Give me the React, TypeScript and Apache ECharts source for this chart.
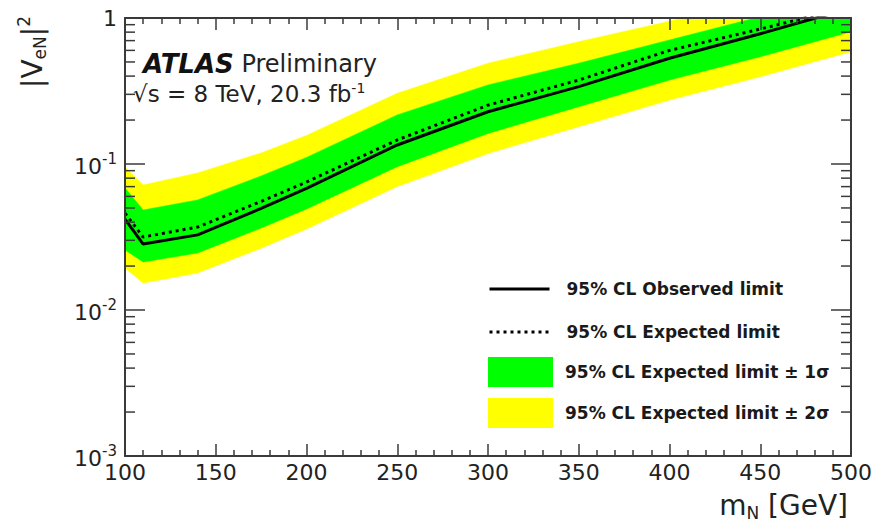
import React, { useEffect, useRef } from "react";
import * as echarts from "echarts";

// ---- data ----
const massGeV = [100, 110, 140, 175, 200, 250, 300, 350, 400, 450, 500];
const observedLimit = [0.042, 0.0283, 0.0327, 0.0496, 0.068, 0.135, 0.228, 0.339, 0.53, 0.78, 1.17];
const expectedLimit = [0.046, 0.0316, 0.037, 0.0555, 0.0753, 0.146, 0.253, 0.376, 0.6, 0.84, 1.2];
const oneSigmaLow = [0.0258, 0.0213, 0.0246, 0.0364, 0.0492, 0.0959, 0.162, 0.247, 0.376, 0.543, 0.805];
const oneSigmaHigh = [0.0685, 0.0484, 0.0567, 0.0828, 0.111, 0.217, 0.348, 0.49, 0.707, 1.02, 1.45];
const twoSigmaLow = [0.0194, 0.0153, 0.0179, 0.0265, 0.0359, 0.07, 0.118, 0.18, 0.274, 0.396, 0.588];
const twoSigmaHigh = [0.0954, 0.0718, 0.0868, 0.119, 0.157, 0.305, 0.49, 0.688, 0.95, 1.35, 1.9];

const xMin = 100;
const xMax = 500;
const xStep = 50;
const yMin = 0.001;
const yMax = 1;

const legendNames = [
  "95% CL Observed limit",
  "95% CL Expected limit",
  "95% CL Expected limit \u00b1 1\u03c3",
  "95% CL Expected limit \u00b1 2\u03c3",
];

const FONT = "DejaVu Sans";
const AXIS_COLOR = "#3a3a3a";
const TEXT_COLOR = "#222";
const YELLOW = "#ffff00";
const GREEN = "#00ff00";

type Pt = number[];
type Rect = { x: number; y: number; width: number; height: number };

function clipHalf(pts: Pt[], axis: number, bound: number, keepAbove: boolean): Pt[] {
  const out: Pt[] = [];
  if (!pts.length) return out;
  const inside = (p: Pt) => (keepAbove ? p[axis] >= bound : p[axis] <= bound);
  const cut = (a: Pt, b: Pt) => {
    const t = (bound - a[axis]) / (b[axis] - a[axis]);
    return [a[0] + t * (b[0] - a[0]), a[1] + t * (b[1] - a[1])];
  };
  for (let i = 0; i < pts.length; i++) {
    const cur = pts[i];
    const prev = pts[(i + pts.length - 1) % pts.length];
    const ci = inside(cur);
    const pi = inside(prev);
    if (ci) {
      if (!pi) out.push(cut(prev, cur));
      out.push(cur);
    } else if (pi) {
      out.push(cut(prev, cur));
    }
  }
  return out;
}

function clipPolygon(pts: Pt[], r: Rect): Pt[] {
  let p = clipHalf(pts, 0, r.x, true);
  p = clipHalf(p, 0, r.x + r.width, false);
  p = clipHalf(p, 1, r.y, true);
  p = clipHalf(p, 1, r.y + r.height, false);
  return p;
}

function bandRenderer(lo: number[], hi: number[], color: string) {
  return (params: any, api: any) => {
    if (params.dataIndex !== 0) return null;
    const upper = massGeV.map((m, i) => api.coord([m, hi[i]]));
    const lower = massGeV.map((m, i) => api.coord([m, lo[i]])).reverse();
    const pts = clipPolygon(upper.concat(lower), params.coordSys as Rect);
    return {
      type: "polygon",
      shape: { points: pts },
      style: { fill: color, stroke: color, lineWidth: 0.5 },
    };
  };
}

// minor log ticks (2..9 x 10^k)
const minorTickValues: number[] = [];
for (let e = -3; e < 0; e++) {
  for (let k = 2; k <= 9; k++) minorTickValues.push(k * Math.pow(10, e));
}

function minorTickRenderer(params: any, api: any) {
  const cs = params.coordSys as Rect;
  const y = api.coord([xMin, api.value(1)])[1];
  const st = { stroke: AXIS_COLOR, lineWidth: 1.5 };
  return {
    type: "group",
    children: [
      { type: "line", shape: { x1: cs.x, y1: y, x2: cs.x + 10, y2: y }, style: st },
      { type: "line", shape: { x1: cs.x + cs.width, y1: y, x2: cs.x + cs.width - 10, y2: y }, style: st },
    ],
  };
}

function makeXAxis(position: "top" | "bottom", labels: boolean) {
  return {
    type: "value",
    position,
    min: xMin,
    max: xMax,
    interval: xStep,
    z: 10,
    axisLine: { show: true, onZero: false, lineStyle: { color: AXIS_COLOR, width: 2 } },
    axisTick: { show: true, inside: true, length: 12, lineStyle: { color: AXIS_COLOR, width: 1.5 } },
    minorTick: { show: true, splitNumber: 5, length: 6, lineStyle: { color: AXIS_COLOR, width: 1.5 } },
    splitLine: { show: false },
    minorSplitLine: { show: false },
    axisLabel: {
      show: labels,
      fontFamily: FONT,
      fontSize: 22,
      color: TEXT_COLOR,
      margin: 5,
    },
  };
}

function makeYAxis(position: "left" | "right", labels: boolean) {
  return {
    type: "log",
    logBase: 10,
    position,
    min: yMin,
    max: yMax,
    z: 10,
    axisLine: { show: true, onZero: false, lineStyle: { color: AXIS_COLOR, width: 2 } },
    axisTick: { show: true, inside: true, length: 20, lineStyle: { color: AXIS_COLOR, width: 1.5 } },
    splitLine: { show: false },
    axisLabel: {
      show: labels,
      margin: 8,
      color: TEXT_COLOR,
      fontFamily: FONT,
      fontSize: 22,
      formatter: (v: number) => {
        const e = Math.round(Math.log10(v));
        if (e === 0) return "1";
        return "{b|10}{s|" + e + "}";
      },
      rich: {
        b: { fontFamily: FONT, fontSize: 22, color: TEXT_COLOR, padding: [4, 0, 0, 0] },
        s: { fontFamily: FONT, fontSize: 15, color: TEXT_COLOR, padding: [0, 0, 10, 0] },
      },
    },
  };
}

const legendText = {
  fontFamily: FONT,
  fontWeight: "bold",
  fontSize: 17,
  color: "#1a1a1a",
};

function makeLegend(name: string, top: number, isBand: boolean) {
  return {
    orient: "vertical",
    left: 488,
    top,
    padding: 0,
    itemWidth: isBand ? 65 : 60,
    itemHeight: 30,
    selectedMode: false,
    data: [
      isBand
        ? { name, icon: "rect" }
        : {
            name,
            itemStyle: { opacity: 0, color: "rgba(0,0,0,0)", borderWidth: 0 },
            lineStyle: { width: 3 },
          },
    ],
    textStyle: { ...legendText, padding: [0, 0, 0, isBand ? 7 : 12] },
  };
}

export default function App() {
  const ref = useRef<HTMLDivElement>(null);

  useEffect(() => {
    document.body.style.margin = "0";
    if (!ref.current) return;
    const chart = echarts.init(ref.current, null, { renderer: "svg" });

    const option: any = {
      animation: false,
      backgroundColor: "#ffffff",
      grid: { left: 125, right: 38, top: 18, bottom: 74, containLabel: false },
      xAxis: [makeXAxis("bottom", true), makeXAxis("top", false)],
      yAxis: [makeYAxis("left", true), makeYAxis("right", false)],
      legend: [
        makeLegend(legendNames[0], 277, false),
        makeLegend(legendNames[1], 320, false),
        makeLegend(legendNames[2], 357, true),
        makeLegend(legendNames[3], 398, true),
      ],
      graphic: [
        {
          type: "text",
          x: 143,
          y: 64,
          z: 20,
          style: {
            text: "{a|ATLAS} Preliminary",
            fontFamily: FONT,
            fontSize: 24,
            fill: TEXT_COLOR,
            verticalAlign: "middle",
            rich: {
              a: { fontFamily: FONT, fontSize: 26, fontWeight: "bold", fontStyle: "italic", fill: "#111" },
            },
          },
        },
        {
          type: "text",
          x: 133,
          y: 94,
          z: 20,
          style: {
            text: "\u221as = 8 TeV, 20.3 fb{sup|-1}",
            fontFamily: FONT,
            fontSize: 23,
            fill: TEXT_COLOR,
            verticalAlign: "middle",
            rich: {
              sup: { fontFamily: FONT, fontSize: 14, fill: TEXT_COLOR, padding: [0, 0, 12, 0] },
            },
          },
        },
        {
          type: "text",
          x: 32,
          y: 16,
          rotation: Math.PI / 2,
          z: 20,
          style: {
            text: "|V{sub|eN}|{sup|2}",
            fontFamily: FONT,
            fontSize: 28,
            fill: TEXT_COLOR,
            align: "right",
            verticalAlign: "middle",
            rich: {
              sub: { fontFamily: FONT, fontSize: 17, fill: TEXT_COLOR, padding: [16, 0, 0, 0] },
              sup: { fontFamily: FONT, fontSize: 17, fill: TEXT_COLOR, padding: [0, 0, 16, 0] },
            },
          },
        },
        {
          type: "text",
          x: 848,
          y: 505,
          z: 20,
          style: {
            text: "m{sub|N} [GeV]",
            fontFamily: FONT,
            fontSize: 28,
            fill: TEXT_COLOR,
            align: "right",
            verticalAlign: "middle",
            rich: {
              sub: { fontFamily: FONT, fontSize: 17, fill: TEXT_COLOR, padding: [16, 0, 0, 0] },
            },
          },
        },
      ],
      series: [
        {
          name: legendNames[3],
          type: "custom",
          xAxisIndex: 0,
          yAxisIndex: 0,
          z: 1,
          silent: true,
          itemStyle: { color: YELLOW },
          encode: { x: 0, y: [1, 2] },
          data: massGeV.map((m, i) => [m, twoSigmaLow[i], twoSigmaHigh[i]]),
          renderItem: bandRenderer(twoSigmaLow, twoSigmaHigh, YELLOW),
        },
        {
          name: legendNames[2],
          type: "custom",
          xAxisIndex: 0,
          yAxisIndex: 0,
          z: 2,
          silent: true,
          itemStyle: { color: GREEN },
          encode: { x: 0, y: [1, 2] },
          data: massGeV.map((m, i) => [m, oneSigmaLow[i], oneSigmaHigh[i]]),
          renderItem: bandRenderer(oneSigmaLow, oneSigmaHigh, GREEN),
        },
        {
          name: legendNames[1],
          type: "line",
          xAxisIndex: 0,
          yAxisIndex: 0,
          z: 3,
          symbol: "none",
          silent: true,
          clip: true,
          itemStyle: { color: "#000" },
          lineStyle: { color: "#000", width: 3, type: [3, 4] },
          data: massGeV.map((m, i) => [m, expectedLimit[i]]),
        },
        {
          name: legendNames[0],
          type: "line",
          xAxisIndex: 0,
          yAxisIndex: 0,
          z: 4,
          symbol: "none",
          silent: true,
          clip: true,
          itemStyle: { color: "#000" },
          lineStyle: { color: "#000", width: 3 },
          data: massGeV.map((m, i) => [m, observedLimit[i]]),
        },
        {
          type: "custom",
          xAxisIndex: 0,
          yAxisIndex: 0,
          z: 11,
          silent: true,
          encode: { x: 0, y: 1 },
          data: minorTickValues.map((v) => [xMin, v]),
          renderItem: minorTickRenderer,
        },
      ],
    };

    chart.setOption(option);
    return () => chart.dispose();
  }, []);

  return <div ref={ref} style={{ width: 889, height: 530 }} />;
}
